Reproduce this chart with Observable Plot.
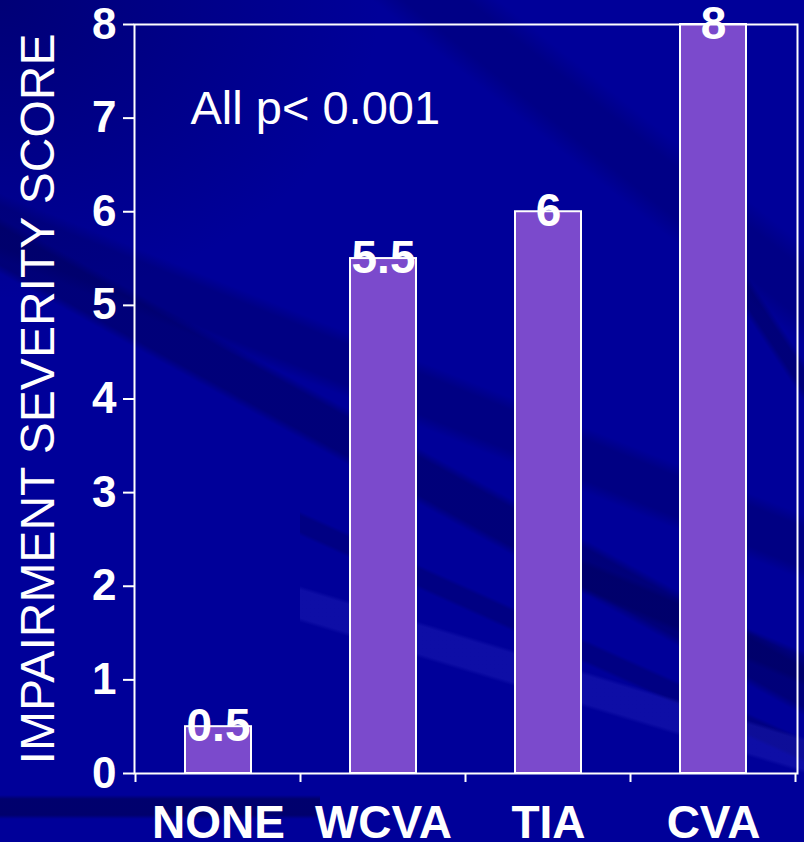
<!DOCTYPE html>
<html>
<head>
<meta charset="utf-8">
<script src="https://cdn.jsdelivr.net/npm/d3@7"></script>
<script src="https://cdn.jsdelivr.net/npm/@observablehq/plot@0.6"></script>
<style>
  html, body { margin: 0; padding: 0; }
  body { width: 804px; height: 842px; overflow: hidden; background: #000099; }
  #chart { width: 804px; height: 842px; position: relative; background-color: #000099; }
  #chart svg { display: block; background: transparent !important; }
</style>
</head>
<body>
<div id="chart"></div>
<script>
// Impairment severity score by stroke category
const categories = ["NONE", "WCVA", "TIA", "CVA"];
const scores = [0.5, 5.5, 6, 8];
const scoreLabels = ["0.5", "5.5", "6", "8"];
const yTicks = [0, 1, 2, 3, 4, 5, 6, 7, 8];
const yLabel = "IMPAIRMENT SEVERITY SCORE";
const note = "All p< 0.001";

const rows = categories.map((c, i) => ({category: c, score: scores[i], label: scoreLabels[i]}));

const font = "'Liberation Sans', Arial, sans-serif";

// Slide backdrop: diagonal streaks drawn as CSS gradient bands.
// Each band: a point it passes through, its slope, thickness, colour, clip box and edge softness.
function band(px, py, slope, thick, color, box = [0, 0, 804, 842], soft = 6) {
  const [bx, by, bw, bh] = box;
  const th = Math.atan(slope);
  const s = Math.sin(th), c = Math.cos(th);
  const L = bw * s + bh * c;
  const cx = bx + bw / 2, cy = by + bh / 2;
  const t = 0.5 + ((px - cx) * s - (py - cy) * c) / L;
  const h = thick * c / 2 / L * 100, f = soft / L * 100;
  const p = t * 100;
  const g = `linear-gradient(${(th * 180 / Math.PI).toFixed(2)}deg, transparent ${(p - h - f).toFixed(2)}%, ${color} ${(p - h).toFixed(2)}%, ${color} ${(p + h).toFixed(2)}%, transparent ${(p + h + f).toFixed(2)}%)`;
  return `${g} ${bx}px ${by}px / ${bw}px ${bh}px no-repeat`;
}
const layers = [
  band(150, 807, 0, 16, "rgba(0,0,80,0.6)", [0, 780, 320, 50], 4),
  band(417, 639, 0.30, 28, "rgba(40,40,190,0.35)", [300, 0, 504, 842], 4),
  band(417, 475, 0.55, 38, "rgba(0,0,90,0.5)", undefined, 8),
  band(470, 600, 0.45, 16, "rgba(0,0,90,0.35)", [300, 0, 504, 842], 4),
  band(700, 625, 0.42, 22, "rgba(0,0,90,0.45)", [560, 0, 244, 842], 6),
  band(60, 250, 0.40, 40, "rgba(0,0,90,0.35)", undefined, 12),
  band(560, 100, 0.80, 50, "rgba(0,0,90,0.3)", [300, 0, 504, 420], 20),
  band(770, 330, 1.5, 20, "rgba(0,0,90,0.5)", [720, 220, 84, 200], 6),
  "radial-gradient(ellipse 380px 300px at 0px 0px, rgba(0,0,90,0.55), transparent) 0 0 / 804px 842px no-repeat",
  "#000099"
];
document.getElementById("chart").style.background = layers.join(",\n");

// tick marks on the category boundaries below the baseline
function boundaryTicks(index, scales, values, dimensions) {
  const x = scales.x;
  const bw = typeof x.bandwidth === "function" ? x.bandwidth() : x.bandwidth;
  const step = x(categories[1]) - x(categories[0]);
  const gap = step - bw;
  const xs = categories.map(c => x(c) - gap / 2);
  xs.push(x(categories[categories.length - 1]) + bw + gap / 2);
  const y0 = dimensions.height - dimensions.marginBottom;
  const g = d3.create("svg:g");
  g.selectAll("line").data(xs).join("line")
    .attr("x1", d => d).attr("x2", d => d)
    .attr("y1", y0).attr("y2", y0 + 9)
    .attr("stroke", "white").attr("stroke-width", 2);
  return g.node();
}

const chart = Plot.plot({
  width: 804,
  height: 842,
  marginLeft: 134,
  marginRight: 7,
  marginTop: 24,
  marginBottom: 69,
  style: {background: "transparent", color: "white", fontFamily: font},
  x: {domain: categories, paddingInner: 0.6, paddingOuter: 0.3, label: null},
  y: {domain: [0, 8], label: null},
  marks: [
    Plot.barY(rows, {x: "category", y: "score", fill: "#7b4acc", stroke: "white", strokeWidth: 2}),
    Plot.frame({stroke: "white", strokeWidth: 2}),
    Plot.axisY({ticks: yTicks, tickSize: 11, tickPadding: 7, fontSize: 44, fontWeight: "bold",
      stroke: "white", strokeWidth: 2, strokeOpacity: 1, label: null}),
    Plot.axisX({tickSize: 0, tickPadding: 32, fontSize: 46, fontWeight: "bold", label: null}),
    boundaryTicks,
    Plot.text(rows, {x: "category", y: "score", text: "label", fill: "white",
      fontSize: 46, fontWeight: "bold", lineAnchor: "middle"}),
    Plot.text([note], {frameAnchor: "top-left", dx: 56, dy: 66, fill: "white",
      fontSize: 47, textAnchor: "start", lineAnchor: "top"}),
    Plot.text([yLabel], {frameAnchor: "left", dx: -96, rotate: -90, fill: "white",
      fontSize: 48, textAnchor: "middle", lineAnchor: "middle"})
  ]
});

document.getElementById("chart").appendChild(chart);
</script>
</body>
</html>
